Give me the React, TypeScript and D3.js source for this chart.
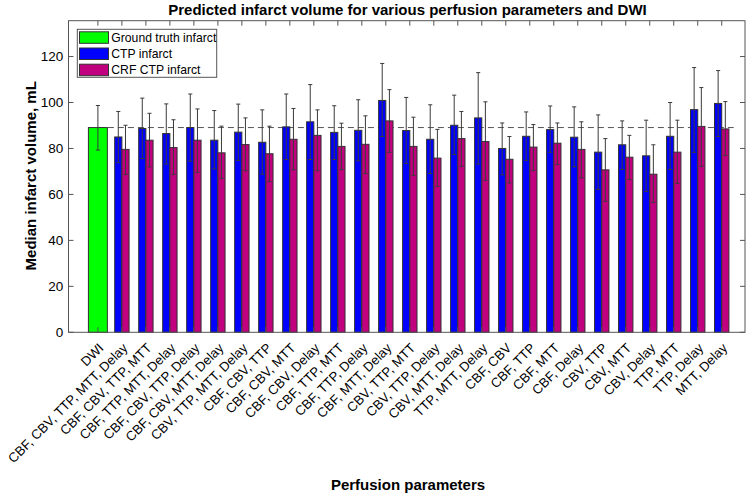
import React from "react";
import * as d3 from "d3";

const categories = [
  "DWI",
  "CBF, CBV, TTP, MTT, Delay",
  "CBF, CBV, TTP, MTT",
  "CBF, TTP, MTT, Delay",
  "CBF, CBV, TTP, Delay",
  "CBF, CBV, MTT, Delay",
  "CBV, TTP, MTT, Delay",
  "CBF, CBV, TTP",
  "CBF, CBV, MTT",
  "CBF, CBV, Delay",
  "CBF, TTP, MTT",
  "CBF, TTP, Delay",
  "CBF, MTT, Delay",
  "CBV, TTP, MTT",
  "CBV, TTP, Delay",
  "CBV, MTT, Delay",
  "TTP, MTT, Delay",
  "CBF, CBV",
  "CBF, TTP",
  "CBF, MTT",
  "CBF, Delay",
  "CBV, TTP",
  "CBV, MTT",
  "CBV, Delay",
  "TTP, MTT",
  "TTP, Delay",
  "MTT, Delay",
];

// Ground truth (DWI)
const dwiValue = 89.1;
const dwiLow = 79.3;
const dwiHigh = 98.7;

// CTP infarct (categories 2..27)
const ctpValues = [85.0, 88.7, 86.5, 89.1, 83.6, 87.1, 82.7, 89.4, 91.6, 87.0, 87.9, 100.9, 87.8, 84.0, 90.1, 93.3, 80.0, 85.3, 88.2, 84.9, 78.4, 81.6, 76.8, 85.3, 96.9, 99.6];
const ctpLow = [73.8, 75.6, 73.2, 74.5, 71.1, 74.8, 68.8, 75.2, 75.2, 75.2, 74.6, 85.2, 73.5, 69.1, 77.4, 73.2, 68.5, 74.8, 78.3, 72.0, 62.2, 70.9, 61.3, 70.9, 78.3, 85.2];
const ctpHigh = [96.1, 101.9, 99.4, 103.7, 96.5, 99.3, 96.8, 103.7, 107.8, 98.6, 101.2, 117.0, 102.2, 99.0, 103.2, 113.0, 91.1, 95.9, 98.5, 98.1, 94.6, 92.0, 92.3, 100.0, 115.2, 113.9];

// CRF CTP infarct
const crfValues = [79.6, 83.6, 80.4, 83.6, 78.1, 81.7, 77.7, 84.0, 85.7, 80.9, 81.8, 92.0, 80.9, 75.8, 84.3, 83.0, 75.3, 80.6, 82.3, 79.6, 70.7, 76.2, 68.8, 78.4, 89.6, 88.5];
const crfLow = [68.7, 72.0, 68.7, 69.6, 67.0, 70.3, 65.6, 70.7, 70.3, 70.8, 69.1, 78.3, 68.3, 63.5, 72.2, 66.1, 65.0, 70.4, 73.0, 67.2, 57.0, 66.5, 56.5, 64.8, 72.2, 77.0];
const crfHigh = [90.1, 95.3, 92.5, 97.2, 89.7, 93.3, 89.7, 97.4, 96.8, 91.0, 94.2, 105.6, 93.6, 88.3, 96.1, 100.3, 85.2, 90.4, 91.1, 91.6, 84.3, 85.7, 81.6, 92.3, 106.5, 100.4];

const yTicks = [0, 20, 40, 60, 80, 100, 120];
const legendLabels = ["Ground truth infarct", "CTP infarct", "CRF CTP infarct"];
const seriesColors = ["#00ff00", "#0000ff", "#c0007f"];

const W = 750;
const H = 496;
const left = 68.5;
const right = 745;
const top = 20.7;
const bottom = 332.3;
const xLim: [number, number] = [-0.225, 27.97];
const yLim: [number, number] = [0, 135.6];

const FONT = "'Liberation Sans', Arial, Helvetica, sans-serif";

export default function App() {
  const x = d3.scaleLinear().domain(xLim).range([left, right]);
  const y = d3.scaleLinear().domain(yLim).range([bottom, top]);
  const axisColor = "#555";
  const errColor = "#3a3a3a";
  const edge = "#333";
  const capHalf = 0.085;

  const positions = categories.map((_, i) => i + 1);

  const errBar = (cx: number, lo: number, hi: number, key: string) => (
    <g key={key} stroke={errColor} strokeWidth={1} fill="none">
      <line x1={x(cx)} x2={x(cx)} y1={y(lo)} y2={y(hi)} />
      <line x1={x(cx - capHalf)} x2={x(cx + capHalf)} y1={y(lo)} y2={y(lo)} />
      <line x1={x(cx - capHalf)} x2={x(cx + capHalf)} y1={y(hi)} y2={y(hi)} />
    </g>
  );

  const bw = 0.3;

  return (
    <div style={{ position: "absolute", left: 0, top: 0 }}>
      <svg width={W} height={H} style={{ display: "block", background: "#fff" }} fontFamily={FONT}>
        <rect x={0} y={0} width={W} height={H} fill="#fff" />
        {/* dashed reference line */}
        <line
          x1={x(1)}
          x2={x(27.5)}
          y1={y(dwiValue)}
          y2={y(dwiValue)}
          stroke="#555"
          strokeWidth={1}
          strokeDasharray="6,4"
        />
        {/* DWI bar */}
        <rect
          x={x(1 - 0.395)}
          y={y(dwiValue)}
          width={x(1 + 0.395) - x(1 - 0.395)}
          height={y(0) - y(dwiValue)}
          fill={seriesColors[0]}
          stroke={edge}
          strokeWidth={1}
        />
        {errBar(1, dwiLow, dwiHigh, "dwi-err")}
        {/* CTP and CRF bars */}
        {ctpValues.map((v, i) => {
          const c = positions[i + 1];
          return (
            <rect
              key={"ctp" + i}
              x={x(c - bw)}
              y={y(v)}
              width={x(c) - x(c - bw)}
              height={y(0) - y(v)}
              fill={seriesColors[1]}
              stroke={edge}
              strokeWidth={1}
            />
          );
        })}
        {crfValues.map((v, i) => {
          const c = positions[i + 1];
          return (
            <rect
              key={"crf" + i}
              x={x(c)}
              y={y(v)}
              width={x(c + bw) - x(c)}
              height={y(0) - y(v)}
              fill={seriesColors[2]}
              stroke={edge}
              strokeWidth={1}
            />
          );
        })}
        {ctpValues.map((_, i) => errBar(positions[i + 1] - bw / 2, ctpLow[i], ctpHigh[i], "ctpe" + i))}
        {crfValues.map((_, i) => errBar(positions[i + 1] + bw / 2, crfLow[i], crfHigh[i], "crfe" + i))}

        {/* axes box */}
        <rect x={left} y={top} width={right - left} height={bottom - top} fill="none" stroke={axisColor} strokeWidth={1} />
        {/* y ticks */}
        {yTicks.map((t) => (
          <g key={"yt" + t}>
            <line x1={left} x2={left + 5} y1={y(t)} y2={y(t)} stroke={axisColor} />
            <line x1={right} x2={right - 5} y1={y(t)} y2={y(t)} stroke={axisColor} />
            <text x={63.3} y={y(t)} dy="0.35em" textAnchor="end" fontSize={13.5} fill="#000">
              {t}
            </text>
          </g>
        ))}
        {/* x ticks */}
        {positions.map((p, i) => (
          <g key={"xt" + i}>
            <line x1={x(p)} x2={x(p)} y1={top} y2={top + 5} stroke={axisColor} />
            <line x1={x(p)} x2={x(p)} y1={bottom} y2={bottom - 5} stroke={axisColor} />
            <text
              transform={`translate(${x(p) + 6.5},${bottom + 16.5}) rotate(-45)`}
              textAnchor="end"
              fontSize={13.2}
              fill="#000"
            >
              {categories[i]}
            </text>
          </g>
        ))}

        {/* legend */}
        <g>
          <rect x={77.3} y={29.3} width={139.4} height={48} fill="#fff" stroke={axisColor} strokeWidth={1} />
          {legendLabels.map((l, i) => (
            <g key={"lg" + i}>
              <rect
                x={79.5}
                y={31.8 + i * 16.2}
                width={29}
                height={11.5}
                fill={seriesColors[i]}
                stroke={edge}
                strokeWidth={1}
              />
              <text x={111.3} y={37.6 + i * 16.2} dy="0.35em" fontSize={12.2} fill="#000">
                {l}
              </text>
            </g>
          ))}
        </g>

        {/* title and axis labels */}
        <text x={407.5} y={14.5} textAnchor="middle" fontSize={15} fontWeight="bold" fill="#000">
          Predicted infarct volume for various perfusion parameters and DWI
        </text>
        <text
          transform={`translate(36.3,${175.8}) rotate(-90)`}
          textAnchor="middle"
          fontSize={15}
          fontWeight="bold"
          fill="#000"
        >
          Median infarct volume, mL
        </text>
        <text x={408} y={489.5} textAnchor="middle" fontSize={15} fontWeight="bold" fill="#000">
          Perfusion parameters
        </text>
      </svg>
    </div>
  );
}
